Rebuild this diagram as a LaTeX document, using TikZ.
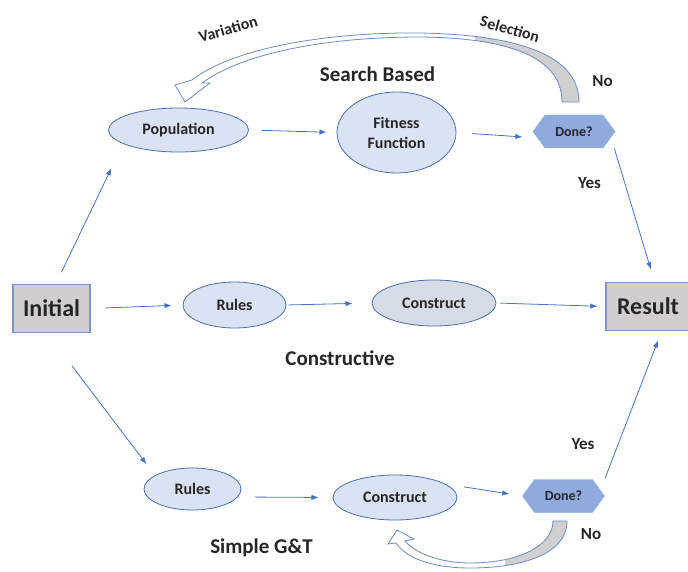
\documentclass[tikz,border=0pt]{standalone}
\usepackage{fontspec}
\setmainfont{Carlito}
\usepackage{tikz}
\usetikzlibrary{arrows.meta}
\usetikzlibrary{shapes}
\usetikzlibrary{positioning}

\definecolor{txt}{HTML}{262626}
\definecolor{ovalfill}{HTML}{DAE3F3}
\definecolor{ovalgray}{HTML}{D6DCE5}
\definecolor{ovalline}{HTML}{4A6DB0}
\definecolor{boxfill}{HTML}{D0CECE}
\definecolor{boxline}{HTML}{7F96C2}
\definecolor{donefill}{HTML}{8FAADC}
\definecolor{flowline}{HTML}{4472C4}
\definecolor{bandline}{HTML}{6A8BC4}
\definecolor{bandgray}{HTML}{D0D0D0}

\newcommand{\selpath}{(579,102) .. controls (579,60) and (530,35) .. (420,33) .. controls (320,32) and (230,50) .. (192,80) -- (175,85) -- (185,102) -- (210,83) -- (202,83) .. controls (240,55) and (320,37) .. (420,37) .. controls (520,38) and (562,62) .. (562,102) -- cycle}
\newcommand{\retrypath}{(567,521) .. controls (567,555) and (520,568) .. (470,568) .. controls (430,568) and (405,557) .. (396,543) -- (388,544) -- (397,530) -- (414,539) -- (405,541) .. controls (415,553) and (440,563) .. (470,563) .. controls (520,563) and (553,545) .. (553,521) -- cycle}

\begin{document}
\begin{tikzpicture}[x=1pt,y=-1pt,
	every node/.style={text=txt},
	oval/.style={ellipse, draw=ovalline, fill=ovalfill, line width=0.8pt, inner sep=0pt, align=center, font=\bfseries\fontsize{16}{20}\selectfont},
	endbox/.style={rectangle, draw=boxline, fill=boxfill, line width=1.2pt, minimum height=48pt, font=\bfseries\fontsize{24}{28}\selectfont},
	donebox/.style={signal, signal to=west and east, signal pointer angle=108, fill=donefill, draw=donefill, minimum width=82pt, minimum height=33pt, inner sep=0pt, font=\bfseries\fontsize{14}{16}\selectfont},
	flow/.style={draw=flowline, line width=0.8pt, -{Latex[length=2.5mm]}},
	grouplbl/.style={anchor=base, font=\bfseries\fontsize{21}{24}\selectfont},
	yesno/.style={anchor=base, font=\bfseries\fontsize{17}{20}\selectfont},
	looplbl/.style={inner sep=1pt, font=\bfseries\fontsize{16}{18}\selectfont}]
			\useasboundingbox (0,0) rectangle (688,572);

			% feedback loops
			\fill[white] \selpath;
			\begin{scope}
				\clip (475,0) rectangle (688,120);
				\fill[bandgray] \selpath;
			\end{scope}
			\draw[bandline, line width=0.8pt] \selpath;
			\fill[white] \retrypath;
			\begin{scope}
				\clip (505,500) rectangle (688,572);
				\fill[bandgray] \retrypath;
			\end{scope}
			\draw[bandline, line width=0.8pt] \retrypath;

			\node[looplbl, rotate=16] (var) at (228,29) {Variation};
			\node[looplbl, rotate=-16] (sel) at (510,29) {Selection};

			\node[endbox, minimum width=77pt] (init) at (51.5,308.5) {Initial};
			\node[endbox, minimum width=84pt] (res) at (648,306.5) {Result};

			\node[oval, minimum width=140pt, minimum height=44pt] (pop) at (178.5,130) {Population};
			\node[oval, minimum width=119pt, minimum height=81pt] (fit) at (396.5,132.5) {Fitness\\Function};
			\node[donebox] (done1) at (574,131.5) {Done?};

			\node[oval, minimum width=103pt, minimum height=46pt] (rules1) at (234.5,305) {Rules};
			\node[oval, fill=ovalgray, minimum width=124pt, minimum height=46pt] (cons1) at (434,303) {Construct};

			\node[oval, minimum width=97pt, minimum height=42pt] (rules2) at (192.5,489) {Rules};
			\node[oval, minimum width=124pt, minimum height=45pt] (cons2) at (395,497.5) {Construct};
			\node[donebox] (done2) at (563.5,496) {Done?};

			\node[grouplbl] (sb) at (377.5,82) {Search Based};
			\node[grouplbl] (ct) at (340,365) {Constructive};
			\node[grouplbl] (gt) at (261.5,553) {Simple G\&T};

			\node[yesno] (no1) at (602.5,87) {No};
			\node[yesno] (yes1) at (589.5,189) {Yes};
			\node[yesno] (yes2) at (583,449) {Yes};
			\node[yesno] (no2) at (591,539) {No};

			\draw[flow, shorten <=13pt, shorten >=27pt] (init.80) -- (pop.194);
			\draw[flow, shorten <=15pt, shorten >=11pt] (init.east) -- (rules1.west);
			\draw[flow, shorten <=41pt, shorten >=14pt] (init.-100) -- (rules2.160);

			\draw[flow, shorten <=13pt, shorten >=10pt] (pop.east) -- (fit.west);
			\draw[flow, shorten <=16pt, shorten >=15pt] (fit.east) -- (done1.-170);
			\draw[flow, shorten <=12pt, shorten >=13pt] (done1.-9) -- (res.75);

			\draw[flow, shorten <=2pt, shorten >=19pt] (rules1.east) -- (cons1.west);
			\draw[flow, shorten <=4pt, shorten >=8pt] (cons1.east) -- (res.west);

			\draw[flow, shorten <=17pt, shorten >=14pt] (rules2.-10) -- (cons2.west);
			\draw[flow, shorten <=19pt, shorten >=13pt] (cons2.15) -- (done2.west);
			\draw[flow, shorten <=13pt, shorten >=10pt] (done2.9) -- (res.-61);
\end{tikzpicture}
\end{document}
